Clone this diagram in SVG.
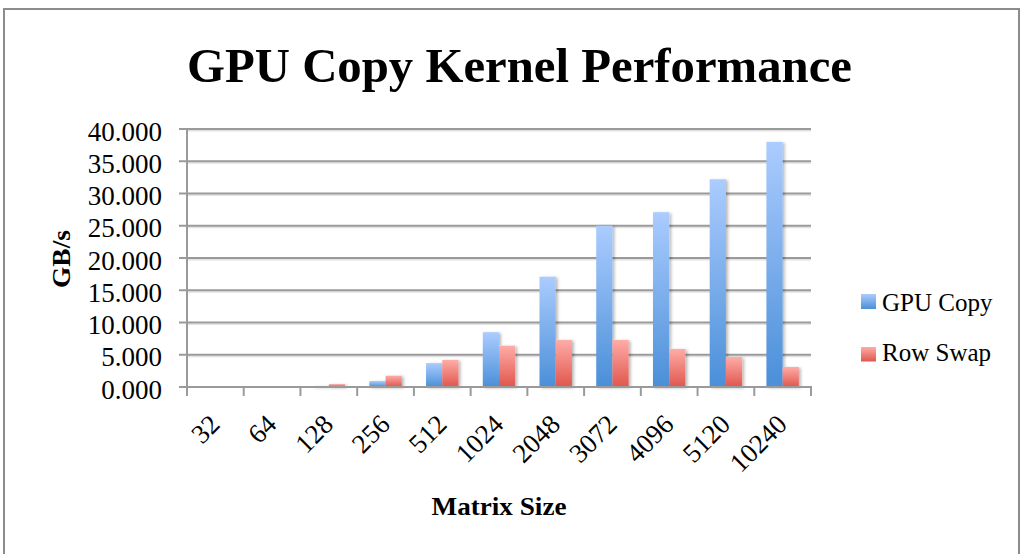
<svg xmlns="http://www.w3.org/2000/svg" width="1023" height="554" viewBox="0 0 1023 554">
<defs>
<linearGradient id="gBlue" x1="0" y1="0" x2="0" y2="1">
<stop offset="0" stop-color="#ABCCFF"/>
<stop offset="1" stop-color="#4A8FD8"/>
</linearGradient>
<linearGradient id="gRed" x1="0" y1="0" x2="0" y2="1">
<stop offset="0" stop-color="#FFACA7"/>
<stop offset="1" stop-color="#DF564D"/>
</linearGradient>
<filter id="shadow" x="-30%" y="-10%" width="160%" height="130%">
<feDropShadow dx="2" dy="1" stdDeviation="1.8" flood-color="#000" flood-opacity="0.28"/>
</filter>
</defs>
<style>
.grid{stroke:#9a9a9a;stroke-width:2;fill:none}
.gridsh{stroke:#e2e2e2;stroke-width:1.5;fill:none}
.axis{stroke:#9a9a9a;stroke-width:2;fill:none}
.ylab{font-family:"Liberation Serif",serif;font-size:27px;fill:#000;text-anchor:end}
.xlab{font-family:"Liberation Serif",serif;font-size:27px;fill:#000;text-anchor:end}
.title{font-family:"Liberation Serif",serif;font-size:49px;font-weight:bold;fill:#000;text-anchor:middle}
.atitle{font-family:"Liberation Serif",serif;font-size:26px;font-weight:bold;fill:#000;text-anchor:middle}
.leg{font-family:"Liberation Serif",serif;font-size:25px;fill:#000}
.b{fill:url(#gBlue)}
.r{fill:url(#gRed)}
</style>
<rect x="0" y="0" width="1023" height="554" fill="#fff"/>
<rect x="4" y="9" width="1015" height="560" fill="none" stroke="#8c8c8c" stroke-width="2"/>
<text class="title" x="519.5" y="82" textLength="665" lengthAdjust="spacingAndGlyphs">GPU Copy Kernel Performance</text>
<g id="gridlines">
<g class="gridsh">
<line x1="187" y1="356.5" x2="811" y2="356.5"/>
<line x1="187" y1="324.3" x2="811" y2="324.3"/>
<line x1="187" y1="292" x2="811" y2="292"/>
<line x1="187" y1="259.8" x2="811" y2="259.8"/>
<line x1="187" y1="227.5" x2="811" y2="227.5"/>
<line x1="187" y1="195.3" x2="811" y2="195.3"/>
<line x1="187" y1="163" x2="811" y2="163"/>
<line x1="187" y1="130.8" x2="811" y2="130.8"/>
</g>
<g class="grid">
<line x1="179" y1="354.75" x2="811" y2="354.75"/>
<line x1="179" y1="322.5" x2="811" y2="322.5"/>
<line x1="179" y1="290.25" x2="811" y2="290.25"/>
<line x1="179" y1="258" x2="811" y2="258"/>
<line x1="179" y1="225.75" x2="811" y2="225.75"/>
<line x1="179" y1="193.5" x2="811" y2="193.5"/>
<line x1="179" y1="161.25" x2="811" y2="161.25"/>
<line x1="179" y1="129" x2="811" y2="129"/>
</g>
</g>
<g id="bars" filter="url(#shadow)">
<rect class="b" x="312.6" y="386" width="16.2" height="1"/>
<rect class="r" x="328.8" y="384.1" width="16.2" height="2.9"/>
<rect class="b" x="369.33" y="381" width="16.2" height="6"/>
<rect class="r" x="385.53" y="375.7" width="16.2" height="11.3"/>
<rect class="b" x="426.06" y="363.1" width="16.2" height="23.9"/>
<rect class="r" x="442.26" y="359.9" width="16.2" height="27.1"/>
<rect class="b" x="482.79" y="332.2" width="16.2" height="54.8"/>
<rect class="r" x="498.99" y="345.7" width="16.2" height="41.3"/>
<rect class="b" x="539.51" y="276.7" width="16.2" height="110.3"/>
<rect class="r" x="555.71" y="339.9" width="16.2" height="47.1"/>
<rect class="b" x="596.24" y="225.7" width="16.2" height="161.3"/>
<rect class="r" x="612.44" y="339.9" width="16.2" height="47.1"/>
<rect class="b" x="652.97" y="212.2" width="16.2" height="174.8"/>
<rect class="r" x="669.17" y="348.9" width="16.2" height="38.1"/>
<rect class="b" x="709.7" y="179.3" width="16.2" height="207.7"/>
<rect class="r" x="725.9" y="357" width="16.2" height="30"/>
<rect class="b" x="766.42" y="141.9" width="16.2" height="245.1"/>
<rect class="r" x="782.62" y="367" width="16.2" height="20"/>
</g>
<g id="axes" class="axis">
<line x1="187" y1="128" x2="187" y2="396"/>
<line x1="179" y1="387" x2="812" y2="387"/>
<line x1="243.73" y1="387" x2="243.73" y2="396"/>
<line x1="300.45" y1="387" x2="300.45" y2="396"/>
<line x1="357.18" y1="387" x2="357.18" y2="396"/>
<line x1="413.91" y1="387" x2="413.91" y2="396"/>
<line x1="470.64" y1="387" x2="470.64" y2="396"/>
<line x1="527.36" y1="387" x2="527.36" y2="396"/>
<line x1="584.09" y1="387" x2="584.09" y2="396"/>
<line x1="640.82" y1="387" x2="640.82" y2="396"/>
<line x1="697.55" y1="387" x2="697.55" y2="396"/>
<line x1="754.27" y1="387" x2="754.27" y2="396"/>
<line x1="811" y1="387" x2="811" y2="396"/>
</g>
<g id="y-labels">
<text class="ylab" x="162" y="398.5">0.000</text>
<text class="ylab" x="162" y="366.25">5.000</text>
<text class="ylab" x="162" y="334">10.000</text>
<text class="ylab" x="162" y="301.75">15.000</text>
<text class="ylab" x="162" y="269.5">20.000</text>
<text class="ylab" x="162" y="237.25">25.000</text>
<text class="ylab" x="162" y="205">30.000</text>
<text class="ylab" x="162" y="172.75">35.000</text>
<text class="ylab" x="162" y="140.5">40.000</text>
</g>
<g id="x-labels">
<text class="xlab" transform="translate(221.4,426) rotate(-45)">32</text>
<text class="xlab" transform="translate(278.1,426) rotate(-45)">64</text>
<text class="xlab" transform="translate(334.8,426) rotate(-45)">128</text>
<text class="xlab" transform="translate(391.5,426) rotate(-45)">256</text>
<text class="xlab" transform="translate(448.3,426) rotate(-45)">512</text>
<text class="xlab" transform="translate(505,426) rotate(-45)">1024</text>
<text class="xlab" transform="translate(561.7,426) rotate(-45)">2048</text>
<text class="xlab" transform="translate(618.5,426) rotate(-45)">3072</text>
<text class="xlab" transform="translate(675.2,426) rotate(-45)">4096</text>
<text class="xlab" transform="translate(731.9,426) rotate(-45)">5120</text>
<text class="xlab" transform="translate(788.6,426) rotate(-45)">10240</text>
</g>
<text class="atitle" transform="translate(70,259) rotate(-90)" textLength="58" lengthAdjust="spacingAndGlyphs">GB/s</text>
<text class="atitle" x="499" y="515" textLength="135" lengthAdjust="spacingAndGlyphs">Matrix Size</text>
<g id="legend">
<g id="legend-gpu">
<rect class="b" x="861" y="294" width="15" height="15"/>
<text class="leg" x="882" y="311">GPU Copy</text>
</g>
<g id="legend-row">
<rect class="r" x="861" y="347" width="15" height="14.5"/>
<text class="leg" x="882" y="361">Row Swap</text>
</g>
</g>
</svg>
